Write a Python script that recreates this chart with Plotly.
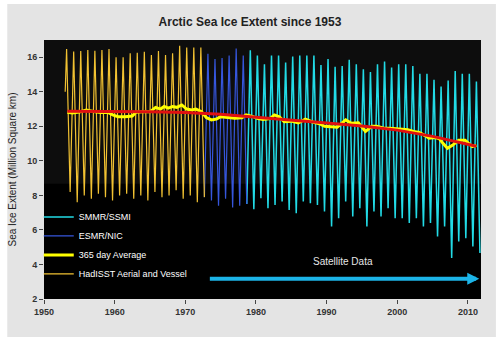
import plotly.graph_objects as go

# ---------------- data ----------------
# HadISST Aerial and Vessel: yearly winter maximum / summer minimum (million km^2)
had_years = list(range(1953, 1973))
had_first = 14.0
had_max = [16.48, 16.33, 16.36, 16.42, 16.38, 16.42, 16.48, 16.00, 16.00, 16.23,
           16.26, 16.32, 16.13, 16.36, 16.13, 16.23, 16.67, 16.57, 16.57, 16.57]
had_min = [8.20, 7.60, 8.00, 7.80, 8.10, 7.90, 7.70, 8.00, 8.10, 7.80,
           8.00, 7.70, 8.20, 7.90, 8.00, 8.30, 7.80, 8.00, 7.60, 7.90]

# ESMR/NIC
esmr_years = list(range(1973, 1979))
esmr_max = [16.20, 15.90, 15.95, 16.10, 16.50, 16.10]
esmr_min = [7.70, 7.40, 7.80, 7.30, 7.40, 7.50]

# SMMR/SSMI
ssmi_years = list(range(1979, 2012))
ssmi_max = [16.40, 16.10, 15.60, 16.10, 16.10, 15.70, 16.05, 16.10, 16.10, 16.10,
            15.55, 15.90, 15.45, 15.50, 15.85, 15.60, 15.30, 15.15, 15.60, 15.75,
            15.40, 15.60, 15.60, 15.50, 15.05, 15.05, 14.70, 14.30, 14.65, 15.20,
            15.05, 15.05, 14.60]
ssmi_min = [7.20, 7.84, 7.26, 7.45, 7.65, 7.16, 6.97, 7.65, 7.55, 7.45,
            7.07, 6.20, 6.68, 7.65, 6.78, 7.26, 6.20, 7.07, 6.78, 7.26,
            6.68, 6.68, 6.40, 6.68, 6.20, 6.40, 5.62, 6.20, 4.37, 5.33,
            5.52, 5.04, 4.66]

# 365 day average
avg_t = [1953.3, 1954.0, 1955.0, 1956.0, 1957.0, 1958.0, 1959.0, 1959.8, 1960.5, 1961.5,
         1962.5, 1963.0, 1964.0, 1965.0, 1965.8, 1966.5, 1967.0, 1967.6, 1968.2, 1968.8,
         1969.5, 1970.2, 1970.9, 1971.5, 1972.3, 1973.0, 1973.7, 1974.4, 1975.0, 1976.0,
         1977.0, 1978.0, 1978.6, 1979.5, 1980.3, 1981.0, 1982.0, 1982.6, 1983.3, 1984.0,
         1985.0, 1986.0, 1987.0, 1988.0, 1989.0, 1989.7, 1990.5, 1991.5, 1992.2, 1992.7,
         1993.5, 1994.5, 1995.5, 1996.4, 1997.1, 1998.0, 1999.4, 2000.5, 2001.5, 2002.3,
         2003.1, 2004.0, 2004.5, 2005.3, 2005.9, 2006.5, 2007.1, 2007.8, 2008.7, 2009.6,
         2010.2, 2010.6, 2011.2]
avg_v = [12.82, 12.78, 12.83, 12.95, 12.86, 12.80, 12.82, 12.65, 12.56, 12.55,
         12.60, 12.82, 12.85, 12.84, 13.10, 13.00, 13.15, 13.05, 13.15, 13.10,
         13.24, 13.00, 12.95, 13.00, 12.85, 12.50, 12.37, 12.42, 12.56, 12.50,
         12.47, 12.50, 12.66, 12.58, 12.45, 12.40, 12.45, 12.66, 12.55, 12.27,
         12.30, 12.20, 12.41, 12.25, 12.15, 12.00, 11.98, 11.95, 12.20, 12.37,
         12.18, 12.20, 11.70, 12.00, 12.00, 11.90, 11.88, 11.85, 11.80, 11.70,
         11.64, 11.45, 11.31, 11.35, 11.30, 11.00, 10.73, 10.90, 11.20, 11.20,
         11.00, 10.83, 10.90]

# trend
trend_t = [1953.3, 1960, 1965, 1970, 1975, 1980, 1985, 1990, 1995, 2000, 2005, 2011.2]
trend_v = [12.88, 12.87, 12.85, 12.80, 12.70, 12.52, 12.38, 12.20, 12.02, 11.78, 11.42, 10.85]

x_ticks = [1950, 1960, 1970, 1980, 1990, 2000, 2010]
y_ticks = [2, 4, 6, 8, 10, 12, 14, 16]

MAX_OFF, MIN_OFF = 0.2, 0.7  # March maximum, September minimum


def seasonal(years, mx, mn, first_t=None, first_v=None):
    t, v = [], []
    if first_t is not None:
        t.append(first_t)
        v.append(first_v)
    for y, a, b in zip(years, mx, mn):
        t += [y + MAX_OFF, y + MIN_OFF]
        v += [a, b]
    return t, v


had_t, had_v = seasonal(had_years, had_max, had_min, had_years[0], had_first)
esmr_t, esmr_v = seasonal(esmr_years, esmr_max, esmr_min,
                          had_years[-1] + MIN_OFF, had_min[-1])
ssmi_t, ssmi_v = seasonal(ssmi_years, ssmi_max, ssmi_min,
                          esmr_years[-1] + MIN_OFF, esmr_min[-1])

FONT = "Arial, Liberation Sans, sans-serif"

fig = go.Figure()
fig.add_trace(go.Scatter(x=ssmi_t, y=ssmi_v, mode="lines", name="SMMR/SSMI",
                         line=dict(color="#22dbe6", width=1.5), legendrank=1))
fig.add_trace(go.Scatter(x=esmr_t, y=esmr_v, mode="lines", name="ESMR/NIC",
                         line=dict(color="#3656dc", width=1.2), legendrank=2))
fig.add_trace(go.Scatter(x=had_t, y=had_v, mode="lines", name="HadISST Aerial and Vessel",
                         line=dict(color="#f2c232", width=1.2), legendrank=4))
fig.add_trace(go.Scatter(x=avg_t, y=avg_v, mode="lines", name="365 day Average",
                         line=dict(color="#ffff00", width=3), legendrank=3))
fig.add_trace(go.Scatter(x=trend_t, y=trend_v, mode="lines", name="Trend",
                         line=dict(color="#e01010", width=3), showlegend=False))

W, H = 500, 353
L, R, T, B = 41, 19, 40, 54
pw, ph = W - L - R, H - T - B

fig.update_layout(
    width=W, height=H,
    margin=dict(l=L, r=R, t=T, b=B, pad=0),
    paper_bgcolor="white", plot_bgcolor="black",
    font=dict(family=FONT, color="#222"),
    title=dict(text="Arctic Sea Ice Extent since 1953", x=0.5, xref="container",
               xanchor="center", y=1 - 22 / H, yref="container", yanchor="middle",
               font=dict(size=12, weight="bold", color="#222", family=FONT)),
    showlegend=True,
    legend=dict(x=-0.012, y=0.373, xanchor="left", yanchor="top",
                bgcolor="rgba(0,0,0,0)", font=dict(size=9, color="white", family=FONT),
                itemwidth=30, traceorder="normal"),
    xaxis=dict(range=[1950, 2011.85], tickvals=x_ticks, ticks="outside", ticklen=4,
               tickcolor="#444", tickfont=dict(size=9, weight="bold", color="#333"),
               showgrid=False, zeroline=False, showline=False),
    yaxis=dict(range=[2, 17], tickvals=y_ticks, ticks="outside", ticklen=4,
               tickcolor="#444", tickfont=dict(size=9, weight="bold", color="#333"),
               showgrid=False, zeroline=False, showline=False,
               title=dict(text="Sea Ice Extent (Million Square km)",
                          font=dict(size=10, color="#222"), standoff=8)),
    shapes=[
        dict(type="rect", xref="paper", yref="paper", layer="below",
             x0=(4 - L) / pw, x1=(496 - L) / pw, y0=-(337 - (T + ph)) / ph, y1=1 + (T - 4) / ph,
             fillcolor="#e4e4e4", line=dict(width=0)),
        dict(type="rect", xref="paper", yref="paper", layer="below",
             x0=0, x1=1, y0=0, y1=1, fillcolor="black", line=dict(width=0)),
        dict(type="rect", xref="paper", yref="y", layer="below",
             x0=0, x1=1, y0=8.67, y1=17, fillcolor="#0d0d0d", line=dict(width=0)),
    ],
    annotations=[
        dict(x=1992.25, y=4.17, xref="x", yref="y", text="Satellite Data",
             showarrow=False, font=dict(size=10, color="#e6e6e6", family=FONT)),
        dict(x=2011.6, y=3.17, ax=1973.26, ay=3.17, xref="x", yref="y",
             axref="x", ayref="y", text="", showarrow=True, arrowhead=2,
             arrowwidth=4, arrowsize=0.6, arrowcolor="#1cb4e8"),
    ],
)

fig.write_html("out.html")
